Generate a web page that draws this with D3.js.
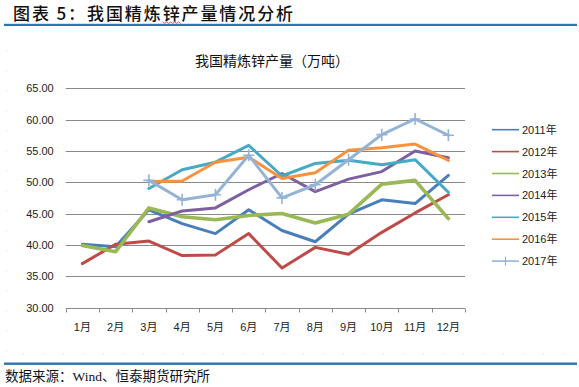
<!DOCTYPE html>
<html><head><meta charset="utf-8">
<script src="https://cdn.jsdelivr.net/npm/d3@7"></script>
<style>
body{margin:0;background:#fff;}
svg{display:block;}
</style></head>
<body>
<svg id="c" width="579" height="387"></svg>
<script>
const months = ["1月","2月","3月","4月","5月","6月","7月","8月","9月","10月","11月","12月"];
const yTicks = [30,35,40,45,50,55,60,65];
const seriesNames = ["2011年","2012年","2013年","2014年","2015年","2016年","2017年"];
const v2011 = [40.1,39.7,45.6,43.4,41.8,45.6,42.3,40.5,44.9,47.2,46.6,51.1];
const v2012 = [37.0,40.1,40.6,38.3,38.4,41.8,36.3,39.6,38.5,42.0,45.1,48.0];
const v2013 = [39.9,38.9,45.9,44.5,44.0,44.7,45.0,43.5,44.9,49.7,50.3,44.2];
const v2014 = [null,null,43.7,45.4,45.9,48.8,51.4,48.5,50.5,51.7,55.0,53.9];
const v2015 = [null,null,49.0,52.0,53.2,55.9,51.0,53.0,53.5,52.8,53.6,48.4];
const v2016 = [null,null,50.1,50.2,53.2,54.0,50.6,51.5,55.1,55.5,56.1,53.5];
const v2017 = [null,null,50.3,47.2,48.0,54.3,47.5,49.6,53.6,57.6,60.1,57.5];
const seriesValues = [v2011,v2012,v2013,v2014,v2015,v2016,v2017];
const colors = ["#4A7EBB","#BE4B48","#98B954","#7D60A0","#46AAC5","#F69240","#94B3D6"];
const widths = [3,3,3.6,3,3,3,3];

const svg = d3.select("#c");
const font = "'Liberation Sans', Arial, 'Noto Sans CJK SC', sans-serif";

// faint outer chart border
svg.append("path").attr("d","M6.5,30.5V354H577")
  .attr("fill","none").attr("stroke","#d9d9d9").attr("stroke-dasharray","1 19");

// header
const hdr = svg.append("text").attr("x",13).attr("y",20)
  .attr("font-family","'Noto Sans CJK SC', sans-serif").attr("font-size",17).attr("font-weight",500)
  .attr("letter-spacing",1.9).attr("fill","#111");
hdr.append("tspan").text("图表 5：我国精炼");
const zinc = hdr.append("tspan").text("锌");
hdr.append("tspan").text("产量情况分析");
let sx = 172, ex = 190;
try { const n = hdr.node(); const i0 = "图表 5：我国精炼".length; sx = n.getStartPositionOfChar(i0).x; ex = n.getEndPositionOfChar(i0).x; } catch(e) {}
let sq = `M${sx},22`;
for (let xx = sx + 2, k = 0; xx <= ex; xx += 2, k++) sq += ` L${xx},${k % 2 ? 22 : 23.3}`;
svg.append("path").attr("d", sq).attr("fill","none").attr("stroke","#e03030").attr("stroke-width",0.8);
svg.append("rect").attr("x",4).attr("y",23.8).attr("width",573).attr("height",2.2).attr("fill","#2E74B5");

// footer
svg.append("rect").attr("x",4).attr("y",362.5).attr("width",573).attr("height",2.4).attr("fill","#2E74B5");
svg.append("text").attr("x",5).attr("y",380.5).text("数据来源：Wind、恒泰期货研究所")
  .attr("font-family","'Liberation Serif', 'Noto Sans CJK SC', serif").attr("font-size",13.5).attr("fill","#111");

// chart title
svg.append("text").attr("x",272).attr("y",66).attr("text-anchor","middle").text("我国精炼锌产量（万吨）")
  .attr("font-family","'Noto Sans CJK SC', sans-serif").attr("font-size",14).attr("fill","#111");

const x = d3.scaleBand().domain(months).range([65.7,465]);
const y = d3.scaleLinear().domain([30,65]).range([307.5,88.3]);

// gridlines
svg.append("g").selectAll("line").data(yTicks.filter(t=>t>30)).join("line")
  .attr("x1",65.7).attr("x2",465).attr("y1",d=>Math.round(y(d))+0.5).attr("y2",d=>Math.round(y(d))+0.5)
  .attr("stroke","#8a8a8a").attr("stroke-width",1);

// y axis labels
const ya = svg.append("g").attr("transform","translate(65.7,0)")
  .call(d3.axisLeft(y).tickValues(yTicks).tickFormat(d3.format(".2f")).tickSize(0).tickPadding(12));
ya.select(".domain").remove();
ya.selectAll("text").attr("font-family",font).attr("font-size",11).attr("fill","#222");

// x axis
const xa = svg.append("g").attr("transform",`translate(0,${Math.round(y(30))+0.5})`)
  .call(d3.axisBottom(x).tickSize(0).tickPadding(15));
xa.select(".domain").attr("stroke","#8a8a8a").attr("d","M65.7,0H465");
const bounds = months.map(m=>x(m)).concat([x(months[11])+x.bandwidth()]);
xa.selectAll(".tk").data(bounds).join("line").attr("class","tk")
  .attr("x1",d=>Math.round(d)+0.5).attr("x2",d=>Math.round(d)+0.5).attr("y1",0).attr("y2",4).attr("stroke","#8a8a8a");
xa.selectAll("text").attr("font-family",font).attr("font-size",11).attr("fill","#222");

// lines
const line = d3.line().defined(d=>d.v!=null).x(d=>x(d.m)+x.bandwidth()/2).y(d=>y(d.v));
seriesValues.forEach((vals,i)=>{
  const pts = vals.map((v,j)=>({m:months[j],v}));
  svg.append("path").datum(pts).attr("d",line).attr("fill","none")
    .attr("stroke",colors[i]).attr("stroke-width",widths[i]).attr("stroke-linejoin","round").attr("stroke-linecap","round");
  if(i===6){
    svg.append("g").selectAll("path").data(pts.filter(d=>d.v!=null)).join("path")
      .attr("d",d=>{const cx=x(d.m)+x.bandwidth()/2, cy=y(d.v);return `M${cx-5.5},${cy}H${cx+5.5}M${cx},${cy-6}V${cy+6}`;})
      .attr("stroke",colors[i]).attr("stroke-width",1.6);
  }
});

// legend
const lg = svg.append("g");
seriesNames.forEach((n,i)=>{
  const ly = 129.7 + i*21.9;
  lg.append("line").attr("x1",492).attr("x2",519).attr("y1",ly).attr("y2",ly).attr("stroke",colors[i]).attr("stroke-width",1.6);
  if(i===6) lg.append("line").attr("x1",505.5).attr("x2",505.5).attr("y1",ly-4.5).attr("y2",ly+4.5).attr("stroke",colors[i]).attr("stroke-width",1.2);
  lg.append("text").attr("x",522).attr("y",ly+4).text(n).attr("font-family",font).attr("font-size",11).attr("fill","#222");
});
</script>
</body></html>
